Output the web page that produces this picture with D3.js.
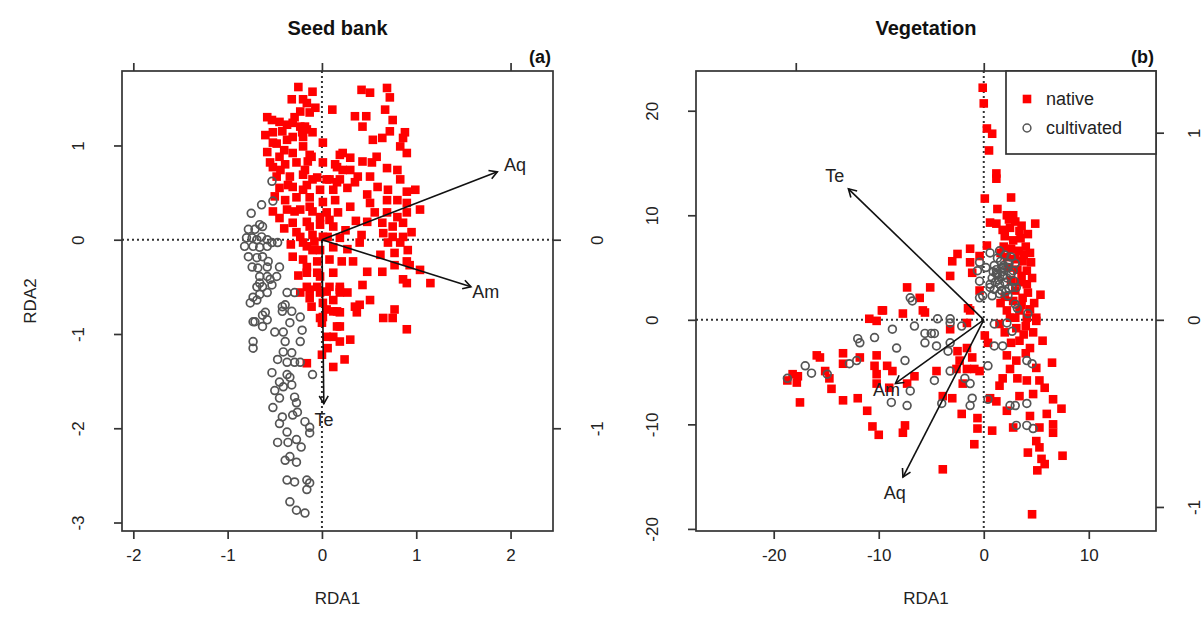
<!DOCTYPE html>
<html>
<head>
<meta charset="utf-8">
<script src="https://cdn.jsdelivr.net/npm/d3@7"></script>
<style>
  html, body { margin: 0; padding: 0; background: #fff; }
  svg { display: block; font-family: "Liberation Sans", Arial, Helvetica, sans-serif; }
</style>
</head>
<body>
<svg id="chart" width="1203" height="627"></svg>
<script>
// ---- Seed bank RDA: site scores ----
const seedNative = [
  [-0.25,1.62],[-0.10,1.57],[-0.32,1.49],[-0.16,1.45],[-0.07,1.40],[0.11,1.38],[-0.23,1.36],[-0.29,1.30],
  [-0.58,1.30],[-0.53,1.27],[-0.45,1.25],[-0.37,1.22],[-0.31,1.24],[-0.23,1.20],[-0.16,1.17],[-0.21,1.14],
  [-0.31,1.09],[-0.60,1.11],[-0.52,1.14],
  [0.42,1.59],[0.51,1.56],[0.69,1.61],[0.72,1.51],[0.67,1.38],[0.35,1.31],[0.47,1.31],[0.75,1.27],
  [0.43,1.20],[0.72,1.15],[0.88,1.14],[0.54,1.06],[0.64,1.08],[0.86,1.08],[0.01,1.03],
  [0.83,0.99],[0.90,0.92],[0.22,0.92],[0.30,0.87],[0.43,0.83],[0.58,0.88],[0.53,0.82],[0.69,0.76],
  [0.80,0.74],[0.16,0.77],[0.30,0.74],[0.05,0.64],[0.16,0.61],[0.35,0.61],[0.38,0.67],[0.51,0.67],
  [0.59,0.56],[0.70,0.53],[0.83,0.64],[0.90,0.51],[0.99,0.53],[0.48,0.48],[0.69,0.42],[0.80,0.42],
  [0.90,0.39],[1.04,0.32],[0.51,0.39],[0.56,0.29],[0.69,0.29],[0.80,0.24],[0.90,0.29],[0.48,0.19],
  [0.64,0.18],[0.75,0.14],[0.86,0.18],[0.95,0.08],[0.65,0.07],[0.75,0.03],[0.86,0.03],[0.70,-0.03],
  [0.83,-0.03],[0.40,-0.03],[0.91,-0.11],[0.62,-0.16],[0.77,-0.14],[0.90,-0.23],[0.93,-0.27],[0.33,-0.23],
  [0.48,-0.34],[0.64,-0.34],[0.77,-0.27],[0.86,-0.42],[0.90,-0.46],[1.15,-0.46],[0.43,-0.48],[0.51,-0.64],
  [0.35,-0.71],[0.65,-0.83],[0.75,-0.83],[0.19,-0.53],[0.27,-0.56],[0.12,-0.64],[0.05,-0.74],[0.19,-0.77],
  [-0.02,-0.83],[0.16,-0.92],[0.90,-0.95],[0.77,-0.74],[1.04,-0.32],
  [-0.20,1.49],[-0.13,1.35],[-0.18,1.20],[-0.10,1.14],[-0.20,0.99],[-0.11,0.88],[-0.18,0.74],[-0.10,0.64],
  [-0.20,0.53],[-0.13,0.35],[-0.02,0.24],[0.08,0.21],[-0.13,0.14],[0.01,0.03],[-0.20,-0.03],[-0.10,-0.11],
  [-0.16,-0.29],[-0.05,-0.35],[-0.16,-0.50],[-0.02,-0.56],[-0.11,-0.71],[0.01,-0.82],
  [-0.52,1.03],[-0.37,1.06],[-0.20,1.09],[-0.58,0.93],[-0.45,0.88],[-0.31,0.92],[-0.13,0.90],[0.19,0.90],
  [-0.52,0.77],[-0.39,0.80],[-0.27,0.82],[-0.15,0.83],[0.01,0.82],[0.14,0.80],[0.22,0.74],[-0.48,0.67],
  [-0.34,0.67],[-0.20,0.69],[-0.05,0.66],[0.08,0.64],[0.19,0.64],[-0.45,0.55],[-0.31,0.56],[-0.16,0.58],
  [-0.02,0.53],[0.12,0.53],[0.27,0.55],[-0.39,0.42],[-0.27,0.45],[-0.13,0.45],[0.01,0.40],[0.14,0.42],
  [-0.37,0.32],[-0.23,0.32],[-0.10,0.30],[0.05,0.29],[0.17,0.29],[-0.52,0.30],[-0.45,0.23],[-0.31,0.18],
  [-0.16,0.19],[-0.02,0.16],[0.12,0.14],[-0.23,0.03],[-0.10,0.05],[0.06,0.03],[0.19,0.02],[-0.31,-0.18],
  [-0.16,-0.07],[-0.02,-0.11],[0.12,-0.08],[-0.20,-0.21],[-0.05,-0.23],[0.08,-0.21],[0.21,-0.23],[-0.16,-0.35],
  [-0.02,-0.39],[0.12,-0.35],[-0.23,-0.56],[-0.13,-0.62],[-0.05,-0.50],[0.08,-0.50],[0.19,-0.56],[0.01,-0.67],
  [0.12,-0.76],[0.00,-0.88],[0.19,-0.92],
  [-0.13,-0.53],[0.05,-0.55],[0.19,-0.50],[0.40,-0.69],[0.16,-0.76],[0.37,-0.77],[0.05,-1.03],[0.12,-1.03],
  [0.30,-1.06],[0.19,-1.08],[0.06,-1.15],[0.00,-1.22],[-0.16,-1.31],[0.12,-1.35],[0.24,-1.27],
  [-0.42,1.15],[-0.48,1.02],[-0.40,0.95],[-0.55,0.82],[-0.44,0.74],[-0.36,0.58],[-0.50,0.46],[-0.29,0.30],
  [-0.40,0.12],[-0.27,0.08],[-0.33,-0.05],[-0.25,-0.38],[-0.08,-0.02],[0.25,0.10],[0.30,0.35],[0.27,-0.10],
  [0.36,0.20],[0.42,0.05]
];
const seedCultivated = [
  [-0.53,0.62],[-0.52,0.41],[-0.64,0.37],[-0.75,0.28],[-0.78,0.11],[-0.71,0.11],[-0.66,0.16],[-0.63,0.14],
  [-0.80,0.02],[-0.74,0.02],[-0.69,0.00],[-0.64,0.03],[-0.58,0.00],[-0.53,-0.03],[-0.47,-0.03],
  [-0.82,-0.07],[-0.73,-0.07],[-0.66,-0.08],[-0.58,-0.07],[-0.78,-0.18],[-0.69,-0.19],[-0.63,-0.18],[-0.57,-0.23],
  [-0.74,-0.29],[-0.68,-0.30],[-0.58,-0.29],[-0.45,-0.29],[-0.66,-0.39],[-0.58,-0.39],[-0.55,-0.42],[-0.48,-0.39],
  [-0.69,-0.50],[-0.63,-0.50],[-0.53,-0.48],[-0.73,-0.61],[-0.66,-0.58],[-0.58,-0.56],[-0.76,-0.67],[-0.69,-0.64],
  [-0.37,-0.56],[-0.29,-0.56],[-0.42,-0.71],[-0.39,-0.69],[-0.32,-0.76],[-0.23,-0.82],[-0.71,-0.87],[-0.63,-0.80],
  [-0.58,-0.85],[-0.66,-0.46],
  [-0.73,-0.87],[-0.63,-0.92],[-0.60,-0.77],[-0.42,-0.76],[-0.34,-0.88],[-0.50,-0.98],[-0.41,-0.98],[-0.21,-0.96],
  [-0.23,-1.08],[-0.39,-1.08],[-0.73,-1.08],[-0.73,-1.15],[-0.41,-1.19],[-0.32,-1.20],[-0.47,-1.27],[-0.37,-1.30],
  [-0.29,-1.30],[-0.23,-1.30],[-0.53,-1.41],[-0.37,-1.43],[-0.34,-1.46],[-0.45,-1.51],[-0.41,-1.56],[-0.32,-1.54],
  [-0.10,-1.43],[-0.45,-1.68],[-0.29,-1.67],[-0.27,-1.73],[-0.42,-1.88],[-0.31,-1.86],[-0.26,-1.83],[-0.18,-1.93],
  [-0.13,-1.99],[-0.13,-2.05],[-0.37,-2.04],[-0.47,-2.15],[-0.36,-2.15],[-0.27,-2.12],[-0.39,-2.34],[-0.27,-2.36],
  [-0.37,-2.55],[-0.29,-2.57],[-0.16,-2.55],[-0.16,-2.65],[-0.13,-2.58],[-0.34,-2.78],[-0.27,-2.87],[-0.18,-2.90],
  [-0.50,-1.60],[-0.52,-1.78],[-0.45,-1.95],[-0.22,-2.20],[-0.34,-2.30]
];
const seedVars = ["Aq", "Am", "Te"];
const seedArrows = [[0.93,0.36],[0.79,-0.25],[0.01,-0.87]];

// ---- Vegetation RDA: site scores ----
const vegNative = [
  [-0.1,22.2],[0.0,20.7],[0.3,18.3],[0.8,17.8],[0.5,16.2],[1.2,14.0],[1.2,13.5],[0.1,11.6],[2.6,11.7],
  [1.3,10.6],[2.2,10.0],[2.8,10.0],[0.6,9.3],[1.2,9.2],[2.5,8.8],[3.4,8.5],[4.9,9.2],[4.2,8.2],[0.3,7.1],
  [-1.3,6.8],[-2.5,6.3],[-3.0,5.6],[-1.3,5.5],[-0.4,6.1],[-3.2,4.2],[-1.1,4.5],[-5.1,3.1],[-7.3,3.1],
  [-6.1,2.1],[-9.6,0.9],[-5.8,0.9],[-1.5,1.1],[-0.4,2.8],[3.7,5.6],[4.1,4.7],[4.1,3.4],[3.7,2.1],[3.4,0.9],[5.0,0.2],
  [2.0,8.0],[2.8,7.6],[3.5,7.8],[1.9,7.0],[2.6,6.8],[3.3,6.6],[4.0,7.0],[2.2,6.0],[3.0,5.8],[3.8,6.2],
  [2.4,5.0],[3.2,4.8],[4.5,5.5],[2.6,3.8],[3.4,3.6],[4.6,4.0],[3.0,2.8],[4.2,2.6],[2.8,1.8],[4.8,1.6],
  [2.2,0.9],[3.0,0.2],[4.4,1.0],[5.4,2.4],[3.6,9.0],[2.4,9.6],
  [1.8,8.6],[3.0,9.4],[1.6,6.4],[4.4,6.4],[3.6,4.2],[2.0,2.2],[3.6,1.4],[1.6,1.6],[4.0,-0.6],[2.0,-1.2],
  [3.8,-1.4],[2.6,-2.2],[5.6,-2.0],[4.0,-3.2],[2.2,-3.4],
  [-5.6,0.7],[-7.7,0.6],[-3.2,-0.9],[-1.6,-0.3],[-1.3,0.9],[0.1,-1.5],[0.4,-2.2],[1.5,-0.4],[2.5,0.2],
  [3.1,-0.8],[4.1,0.2],[4.7,-1.2],[5.0,-0.1],[3.4,-2.0],[4.4,-2.7],[-2.5,-3.0],[-1.6,-2.7],[-1.1,-3.6],
  [-2.3,-3.9],[-1.6,-4.7],[-2.6,-4.7],[-0.9,-4.7],[-2.0,-6.1],[-0.4,-4.9],[-4.5,-4.9],[-6.6,-5.4],[-7.3,-6.1],
  [-3.9,-7.3],[-3.0,-7.5],[-2.1,-9.0],[-0.6,-9.4],[-0.6,-10.4],[0.8,-10.6],[-0.9,-11.9],[1.5,-6.3],[1.8,-5.6],
  [2.5,-4.7],[3.1,-3.9],[3.2,-5.6],[4.1,-5.8],[3.4,-7.3],[5.0,-4.6],[5.3,-5.8],[5.8,-6.5],[6.5,-4.1],
  [6.6,-7.6],[7.4,-8.5],[4.7,-7.1],[6.0,-9.0],[4.4,-9.2],[5.3,-10.3],[6.6,-10.0],[6.6,-10.8],[5.0,-11.6],
  [5.3,-12.2],[4.2,-12.7],[5.5,-13.3],[5.8,-13.8],[7.5,-13.0],[5.1,-14.4],[-3.9,-14.3],[4.6,-18.6],
  [-7.5,-10.1],[-7.7,-10.8],[2.8,-10.3],[2.2,-8.7],[1.2,-7.8],[0.6,-7.5],
  [-9.7,0.9],[-10.9,0.1],[-10.2,-0.1],[-15.9,-3.4],[-15.6,-3.6],[-13.4,-3.2],[-13.4,-4.2],[-11.8,-3.6],
  [-10.2,-3.4],[-10.4,-4.4],[-10.2,-5.2],[-9.2,-4.4],[-8.7,-4.9],[-18.7,-5.8],[-18.2,-5.2],[-17.7,-5.4],
  [-17.8,-6.0],[-15.1,-4.9],[-14.7,-5.6],[-14.5,-6.6],[-13.4,-7.7],[-17.5,-7.9],[-11.1,-8.7],[-10.2,-6.1],
  [-9.0,-6.5],[-10.6,-10.2],[-10.0,-11.0],[-12.0,-7.5]
];
const vegCultivated = [
  [-18.7,-5.6],[-17.0,-4.4],[-16.4,-5.1],[-14.9,-5.2],[-12.8,-4.2],[-12.1,-3.9],[-11.8,-2.2],[-12.0,-1.8],
  [-10.4,-1.7],[-8.7,-0.9],[-8.3,-2.7],[-8.8,-7.9],
  [-4.4,0.1],[-3.2,-0.3],[-2.1,-0.6],[-6.6,-0.6],[-5.6,-1.3],[-5.0,-1.3],[-4.7,-1.3],[-5.6,-2.2],[-4.5,-2.5],
  [-3.2,-2.2],[-3.4,-3.0],[-7.5,-3.9],[-7.0,-6.8],[-7.3,-8.2],[-4.7,-5.8],[-3.2,-4.9],[-4.0,-8.0],[-1.8,-5.6],
  [-1.3,-6.1],[-1.1,-7.5],[-1.3,-8.2],[0.4,-7.6],[0.4,-4.4],[1.0,-2.5],[1.8,-2.5],[1.0,-0.4],[2.2,-0.3],
  [2.7,-1.1],[3.2,1.1],[4.2,0.6],[-0.1,2.3],[0.8,2.3],[1.5,2.5],[2.3,2.3],[3.1,3.1],[3.0,1.5],[2.5,-8.2],
  [3.0,-8.2],[4.1,-8.0],[4.1,-3.9],[4.6,-4.2],[3.1,-10.1],[4.1,-10.1],[4.7,-10.4],[-0.4,3.7],[0.6,3.4],
  [0.6,6.4],[-0.4,5.5],[-0.6,4.7],[-0.4,2.1],[0.6,3.1],[1.3,5.9],[1.8,5.0],[1.2,4.4],[2.2,4.0],[1.5,3.4],
  [2.8,4.7],[2.7,3.1],[-6.8,1.8],[-7.0,2.1],[-3.2,0.1],
  [1.0,5.2],[1.6,5.6],[2.0,6.2],[2.4,5.4],[1.2,4.8],[1.8,4.2],[2.6,4.4],[0.8,4.0],[1.4,3.8],[2.0,3.6],
  [2.4,3.0],[1.0,2.9],[1.7,2.8],[2.0,4.8],[1.5,6.6],[2.6,6.0],[0.2,5.0],[3.0,5.4],[1.9,5.2],[1.3,4.3],
  [1.1,3.6],[1.7,4.6],[2.3,5.0],[0.9,4.6],[2.1,2.7],[2.9,3.7]
];
const vegVars = ["Te", "Am", "Aq"];
const vegArrows = [[-0.72,0.70],[-0.47,-0.34],[-0.43,-0.84]];

// ---- Axis tick labels ----
const seedTicksX = [-2, -1, 0, 1, 2];
const seedTicksY = [-3, -2, -1, 0, 1];
const seedTopTicks = [-1, 0, 1];
const seedRightTicks = [-1, 0];
const vegTicksX = [-20, -10, 0, 10];
const vegTicksY = [-20, -10, 0, 10, 20];
const vegTopTicks = [-1, 0];
const vegRightTicks = [-1, 0, 1];

const legendLabels = ["native", "cultivated"];

const RED = "#ff0000";
const GREY = "#555555";
const INK = "#222222";
const FONT = 17;

const svg = d3.select("#chart");

const panels = [
  {
    id: "a", title: "Seed bank", tag: "(a)",
    box: { l: 122, r: 553, t: 71, b: 531 },
    xDom: [-2.12, 2.45], yDom: [-3.09, 1.79], k: 0.5, rightPad: 44,
    native: seedNative, cultivated: seedCultivated,
    vars: seedVars, arrows: seedArrows,
    tx: seedTicksX, ty: seedTicksY, ttop: seedTopTicks, tright: seedRightTicks,
    legend: false
  },
  {
    id: "b", title: "Vegetation", tag: "(b)",
    box: { l: 696, r: 1156, t: 71, b: 531 },
    xDom: [-27.4, 16.4], yDom: [-20.2, 23.8], k: 1 / 17.9, rightPad: 38,
    native: vegNative, cultivated: vegCultivated,
    vars: vegVars, arrows: vegArrows,
    tx: vegTicksX, ty: vegTicksY, ttop: vegTopTicks, tright: vegRightTicks,
    legend: true
  }
];

panels.forEach(p => {
  const { l, r, t, b } = p.box;
  const x = d3.scaleLinear().domain(p.xDom).range([l, r]);
  const y = d3.scaleLinear().domain(p.yDom).range([b, t]);
  // species (arrow) scale shares the plot region
  const sx = d3.scaleLinear().domain(p.xDom.map(v => v * p.k)).range([l, r]);
  const sy = d3.scaleLinear().domain(p.yDom.map(v => v * p.k)).range([b, t]);

  const g = svg.append("g");

  const clipId = "clip-" + p.id;
  g.append("clipPath").attr("id", clipId)
    .append("rect").attr("x", l).attr("y", t).attr("width", r - l).attr("height", b - t);

  // zero reference lines
  const ref = g.append("g").attr("clip-path", `url(#${clipId})`)
    .attr("stroke", "#333").attr("stroke-width", 2).attr("stroke-dasharray", "2,3");
  ref.append("line").attr("x1", l).attr("x2", r).attr("y1", y(0)).attr("y2", y(0));
  ref.append("line").attr("x1", x(0)).attr("x2", x(0)).attr("y1", t).attr("y2", b);

  const pts = g.append("g").attr("clip-path", `url(#${clipId})`);
  const s = 8.6;
  pts.selectAll("rect.native").data(p.native).join("rect")
    .attr("class", "native")
    .attr("x", d => x(d[0]) - s / 2).attr("y", d => y(d[1]) - s / 2)
    .attr("width", s).attr("height", s).attr("fill", RED);
  pts.selectAll("circle.cult").data(p.cultivated).join("circle")
    .attr("class", "cult")
    .attr("cx", d => x(d[0])).attr("cy", d => y(d[1])).attr("r", 3.9)
    .attr("fill", "none").attr("stroke", GREY).attr("stroke-width", 1.7);

  // biplot arrows for explanatory variables
  const arr = g.append("g").attr("stroke", "#111").attr("stroke-width", 1.6).attr("fill", "none");
  p.arrows.forEach((a, i) => {
    const x0 = sx(0), y0 = sy(0), x1 = sx(a[0]), y1 = sy(a[1]);
    const ang = Math.atan2(y1 - y0, x1 - x0);
    const hl = 9, ha = Math.PI / 6;
    arr.append("line").attr("x1", x0).attr("y1", y0).attr("x2", x1).attr("y2", y1);
    const hp = d3.path();
    hp.moveTo(x1 - hl * Math.cos(ang - ha), y1 - hl * Math.sin(ang - ha));
    hp.lineTo(x1, y1);
    hp.lineTo(x1 - hl * Math.cos(ang + ha), y1 - hl * Math.sin(ang + ha));
    arr.append("path").attr("d", hp.toString());
    g.append("text")
      .attr("x", sx(a[0] * 1.1)).attr("y", sy(a[1] * 1.1))
      .attr("text-anchor", "middle").attr("dominant-baseline", "central")
      .attr("font-size", 18).attr("fill", INK)
      .text(p.vars[i]);
  });

  // axes
  const styleAxis = sel => {
    sel.select(".domain").remove();
    sel.selectAll(".tick line").attr("stroke", "#333").attr("stroke-width", 1.7);
    sel.selectAll(".tick text").attr("font-size", FONT).attr("fill", INK)
      .attr("font-family", "'Liberation Sans', Arial, sans-serif");
  };
  const fmt = d => d < 0 ? "-" + Math.abs(d) : String(d);

  g.append("g").attr("transform", `translate(0,${b})`)
    .call(d3.axisBottom(x).tickValues(p.tx).tickFormat(fmt).tickSize(8).tickPadding(22))
    .call(styleAxis)
    .call(sel => sel.selectAll(".tick text").attr("dy", "0"));

  g.append("g").attr("transform", `translate(${l},0)`)
    .call(d3.axisLeft(y).tickValues(p.ty).tickFormat(fmt).tickSize(8))
    .call(styleAxis)
    .call(sel => sel.selectAll(".tick text")
      .attr("x", null).attr("dy", null)
      .attr("text-anchor", "middle")
      .attr("transform", "translate(-44,0) rotate(-90)")
      .attr("dominant-baseline", "central"));

  g.append("g").attr("transform", `translate(0,${t})`)
    .call(d3.axisTop(sx).tickValues(p.ttop).tickFormat("").tickSize(8))
    .call(styleAxis);

  g.append("g").attr("transform", `translate(${r},0)`)
    .call(d3.axisRight(sy).tickValues(p.tright).tickFormat(fmt).tickSize(8))
    .call(styleAxis)
    .call(sel => sel.selectAll(".tick text")
      .attr("x", null).attr("dy", null)
      .attr("text-anchor", "middle")
      .attr("transform", `translate(${p.rightPad},0) rotate(-90)`)
      .attr("dominant-baseline", "central"));

  // plot frame
  g.append("rect").attr("x", l).attr("y", t).attr("width", r - l).attr("height", b - t)
    .attr("fill", "none").attr("stroke", "#333").attr("stroke-width", 1.7);

  // titles
  g.append("text").attr("x", (l + r) / 2).attr("y", 28)
    .attr("text-anchor", "middle").attr("dominant-baseline", "central")
    .attr("font-size", 20).attr("font-weight", "bold").attr("fill", "#111")
    .text(p.title);
  g.append("text").attr("x", r - 2).attr("y", 57)
    .attr("text-anchor", "end").attr("dominant-baseline", "central")
    .attr("font-size", 18).attr("font-weight", "bold").attr("fill", "#111")
    .text(p.tag);

  g.append("text").attr("x", (l + r) / 2).attr("y", 598)
    .attr("text-anchor", "middle").attr("dominant-baseline", "central")
    .attr("font-size", FONT).attr("fill", INK).text("RDA1");

  if (p.id === "a") {
    g.append("text").attr("transform", `translate(30,${(t + b) / 2}) rotate(-90)`)
      .attr("text-anchor", "middle").attr("dominant-baseline", "central")
      .attr("font-size", FONT).attr("fill", INK).text("RDA2");
  }

  if (p.legend) {
    const lx = 1006, ly = t, lw = r - lx, lh = 83;
    const lg = g.append("g");
    lg.append("rect").attr("x", lx).attr("y", ly).attr("width", lw).attr("height", lh)
      .attr("fill", "#fff").attr("stroke", "#333").attr("stroke-width", 1.7);
    lg.append("rect").attr("x", lx + 21 - 4.3).attr("y", ly + 28 - 4.3).attr("width", 8.6).attr("height", 8.6).attr("fill", RED);
    lg.append("circle").attr("cx", lx + 21).attr("cy", ly + 57).attr("r", 3.9)
      .attr("fill", "none").attr("stroke", GREY).attr("stroke-width", 1.5);
    legendLabels.forEach((txt, i) => {
      lg.append("text").attr("x", lx + 40).attr("y", ly + 28 + i * 29)
        .attr("dominant-baseline", "central").attr("font-size", 18).attr("fill", INK).text(txt);
    });
  }
});
</script>
</body>
</html>
